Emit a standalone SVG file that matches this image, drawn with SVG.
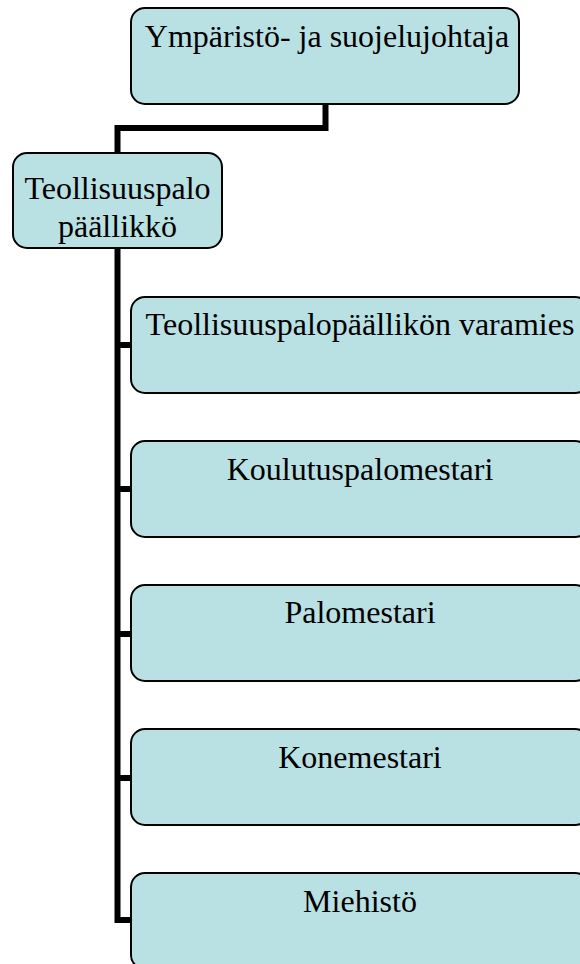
<svg xmlns="http://www.w3.org/2000/svg" width="580" height="964" viewBox="0 0 580 964">
<style>
.box{fill:#b9e0e3;stroke:#000;stroke-width:2}
.t{font-family:"Liberation Serif","Times New Roman",serif;font-size:32px;fill:#000;text-anchor:middle}
.c{fill:none;stroke:#000;stroke-width:6;stroke-linejoin:miter}
</style>
<rect width="580" height="964" fill="#fff"/>
<g id="connectors">
<path class="c" d="M325.5,104 V128 H117.5 V153"/>
<path class="c" d="M117.5,248 V920 H132"/>
<path class="c" d="M117.5,345 H132"/>
<path class="c" d="M117.5,489 H132"/>
<path class="c" d="M117.5,634 H132"/>
<path class="c" d="M117.5,778 H132"/>
</g>
<g id="n-ymparisto">
<rect class="box" x="131" y="8" width="388" height="96" rx="14"/>
<text class="t" x="327" y="47">Ympäristö- ja suojelujohtaja</text>
</g>
<g id="n-teollisuuspalopaallikko">
<rect class="box" x="13" y="153" width="209" height="95" rx="14"/>
<text class="t" x="117.5" y="199">Teollisuuspalo</text>
<text class="t" x="117.5" y="237">päällikkö</text>
</g>
<g id="n-varamies">
<rect class="box" x="131" y="297" width="458" height="96" rx="14"/>
<text class="t" x="360" y="335">Teollisuuspalopäällikön varamies</text>
</g>
<g id="n-koulutuspalomestari">
<rect class="box" x="131" y="441" width="458" height="96" rx="14"/>
<text class="t" x="360" y="480">Koulutuspalomestari</text>
</g>
<g id="n-palomestari">
<rect class="box" x="131" y="585" width="458" height="96" rx="14"/>
<text class="t" x="360" y="623">Palomestari</text>
</g>
<g id="n-konemestari">
<rect class="box" x="131" y="729" width="458" height="96" rx="14"/>
<text class="t" x="360" y="768">Konemestari</text>
</g>
<g id="n-miehisto">
<rect class="box" x="131" y="873" width="458" height="96" rx="14"/>
<text class="t" x="360" y="912">Miehistö</text>
</g>
</svg>
